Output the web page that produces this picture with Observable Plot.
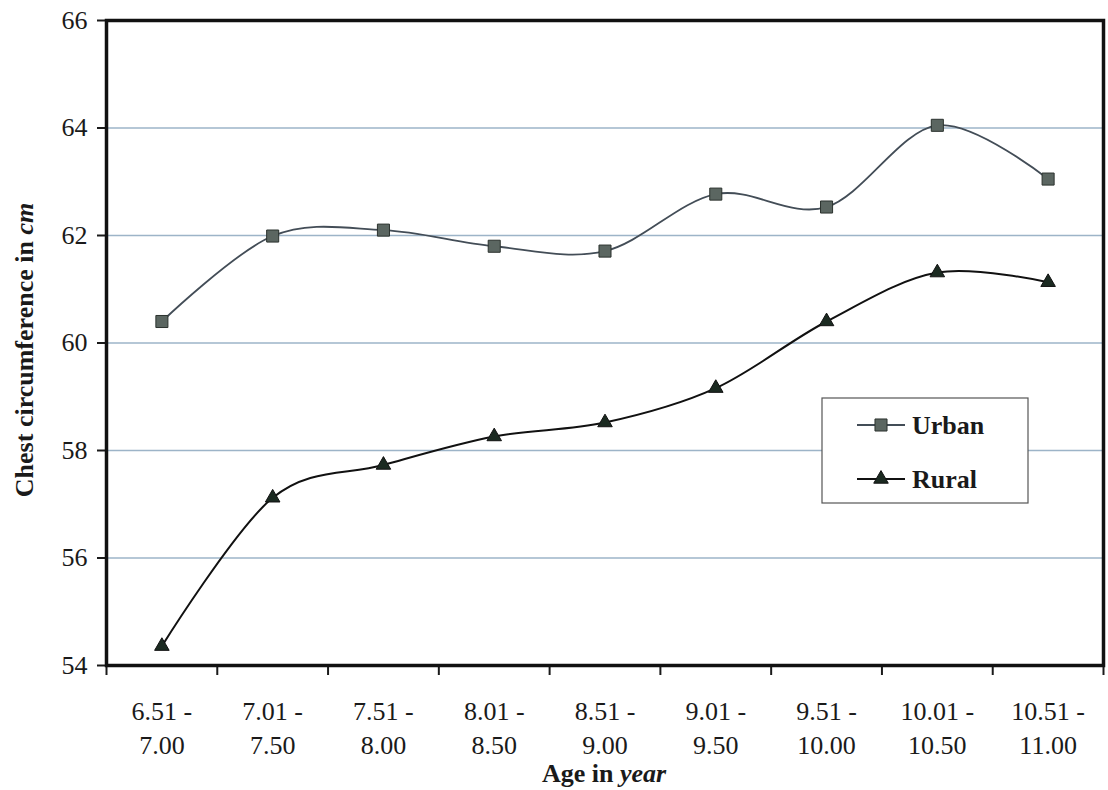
<!DOCTYPE html>
<html>
<head>
<meta charset="utf-8">
<script src="https://cdn.jsdelivr.net/npm/d3@7"></script>
<script src="https://cdn.jsdelivr.net/npm/@observablehq/plot@0.6"></script>
<style>
  html, body { margin: 0; padding: 0; background: #fff; }
  #chart svg { display: block; }
</style>
</head>
<body>
<div id="chart"></div>
<script>
const categories = ["6.51 -\n7.00", "7.01 -\n7.50", "7.51 -\n8.00", "8.01 -\n8.50", "8.51 -\n9.00",
                    "9.01 -\n9.50", "9.51 -\n10.00", "10.01 -\n10.50", "10.51 -\n11.00"];
const urban = [60.40, 61.99, 62.10, 61.80, 61.71, 62.77, 62.53, 64.05, 63.05];
const rural = [54.36, 57.12, 57.73, 58.26, 58.52, 59.16, 60.40, 61.31, 61.13];
const yTicks = [54, 56, 58, 60, 62, 64, 66];
const seriesNames = ["Urban", "Rural"];

const idx = categories.map((_, i) => i);
const boundaries = d3.range(-0.5, categories.length, 1);
const urbanData = idx.map(i => ({i, v: urban[i]}));
const ruralData = idx.map(i => ({i, v: rural[i]}));

const FONT = "'Liberation Serif', 'Times New Roman', serif";

const chart = Plot.plot({
  width: 1108,
  height: 790,
  marginLeft: 106,
  marginRight: 5,
  marginTop: 20,
  marginBottom: 125,
  style: {fontFamily: FONT, background: "#fff", color: "#1a1a1a"},
  x: {domain: [-0.5, categories.length - 0.5], axis: null},
  y: {domain: [54, 66], axis: null},
  marks: [
    Plot.gridY(yTicks.slice(1, -1), {stroke: "#9db4c8", strokeOpacity: 1, strokeWidth: 1.3}),
    Plot.axisY({ticks: yTicks, tickSize: 9, tickPadding: 10, fontSize: 26, strokeWidth: 2, label: null, color: "#1a1a1a"}),
    Plot.axisX({ticks: boundaries, tickSize: 10, tickFormat: () => "", strokeWidth: 2, label: null, color: "#1a1a1a"}),
    Plot.text(idx, {x: d => d, frameAnchor: "bottom", text: d => categories[d], lineAnchor: "top",
                    dy: 30, fontSize: 26, lineHeight: 1.31, fill: "#1a1a1a"}),
    Plot.frame({stroke: "#111", strokeWidth: 3.5}),
    Plot.line(urbanData, {x: "i", y: "v", curve: "cardinal", stroke: "#434d57", strokeWidth: 1.8}),
    Plot.line(ruralData, {x: "i", y: "v", curve: "cardinal", stroke: "#111", strokeWidth: 2}),
    Plot.dot(urbanData, {x: "i", y: "v", symbol: "square", r: 6.8, fill: "#5b6661", stroke: "#2b322e", strokeWidth: 1}),
    Plot.dot(ruralData, {x: "i", y: "v", symbol: "triangle", r: 5.4, fill: "#1b2a21", stroke: "#111", strokeWidth: 1})
  ]
});

document.getElementById("chart").appendChild(chart);

const svg = d3.select(chart);

// Y axis title
const yt = svg.append("text")
  .attr("transform", "translate(33,350) rotate(-90)")
  .attr("text-anchor", "middle")
  .attr("font-family", FONT)
  .attr("font-size", 26)
  .attr("font-weight", "bold")
  .attr("fill", "#1a1a1a");
yt.append("tspan").text("Chest circumference in ");
yt.append("tspan").attr("font-style", "italic").text("cm");

// X axis title
const xt = svg.append("text")
  .attr("x", 604).attr("y", 782)
  .attr("text-anchor", "middle")
  .attr("font-family", FONT)
  .attr("font-size", 26)
  .attr("font-weight", "bold")
  .attr("fill", "#1a1a1a");
xt.append("tspan").text("Age in ");
xt.append("tspan").attr("font-style", "italic").text("year");

// Legend
const lg = svg.append("g").attr("text-anchor", "start");
lg.append("rect").attr("x", 822).attr("y", 398).attr("width", 206).attr("height", 105)
  .attr("fill", "#fff").attr("stroke", "#555").attr("stroke-width", 1.2);
const entries = [
  {name: seriesNames[0], y: 425, sym: d3.symbolSquare, r: 6.8, fill: "#5b6661", stroke: "#2b322e", line: "#434d57"},
  {name: seriesNames[1], y: 479, sym: d3.symbolTriangle, r: 5.4, fill: "#1b2a21", stroke: "#111", line: "#111"}
];
for (const e of entries) {
  lg.append("line").attr("x1", 857).attr("x2", 905).attr("y1", e.y).attr("y2", e.y)
    .attr("stroke", e.line).attr("stroke-width", 1.8);
  lg.append("path").attr("transform", `translate(881,${e.y})`)
    .attr("d", d3.symbol(e.sym, Math.PI * e.r * e.r)())
    .attr("fill", e.fill).attr("stroke", e.stroke);
  lg.append("text").attr("x", 912).attr("y", e.y + 9)
    .attr("text-anchor", "start")
    .attr("font-family", FONT).attr("font-size", 26).attr("font-weight", "bold")
    .attr("fill", "#1a1a1a").text(e.name);
}
</script>
</body>
</html>
